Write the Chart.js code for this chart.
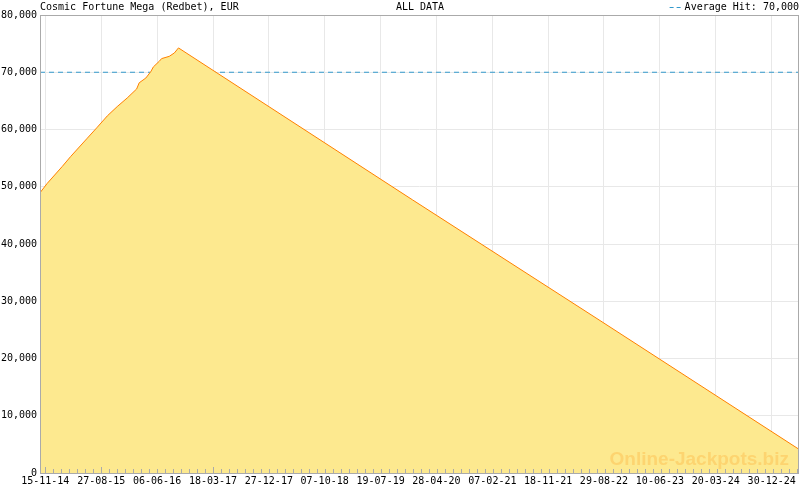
<!DOCTYPE html>
<html>
<head>
<meta charset="utf-8">
<script src="https://cdn.jsdelivr.net/npm/chart.js@4"></script>
<style>
html, body { margin: 0; padding: 0; background: #fff; }
</style>
</head>
<body>
<canvas id="c" width="800" height="490"></canvas>
<script>
const chartTitle = 'Cosmic Fortune Mega (Redbet), EUR';
const rangeLabel = 'ALL DATA';
const averageHit = 70000;

// jackpot readings (date, EUR)
const pointDates = [
    '2014-10-19', '2014-11-25', '2015-02-09', '2015-03-24', '2015-06-17',
    '2015-08-07', '2015-09-27', '2015-11-16', '2016-01-06', '2016-02-23',
    '2016-03-07', '2016-04-10', '2016-05-06', '2016-05-18', '2016-06-17',
    '2016-06-29', '2016-08-07', '2016-09-02', '2016-09-23',
    '2019-12-28', '2022-08-04', '2025-05-18'
];
const pointValues = [
    48950, 50600, 53530, 55280, 58490,
    60410, 62390, 64000, 65510, 67080,
    68160, 69000, 70160, 70930, 71910,
    72380, 72780, 73370, 74250,
    47720, 26740, 4140
];

const tickLabels = [
    '15-11-14', '27-08-15', '06-06-16', '18-03-17', '27-12-17', '07-10-18', '19-07-19',
    '28-04-20', '07-02-21', '18-11-21', '29-08-22', '10-06-23', '20-03-24', '30-12-24'
];
const yMax = 80000;
const yStep = 10000;

const FONT = '"DejaVu Sans Mono", monospace';
const DAY = 86400000;
const origin = Date.UTC(2014, 10, 15);

function isoToDay(s){
    let p = s.split('-');
    return Math.round((Date.UTC(+p[0], +p[1] - 1, +p[2]) - origin) / DAY);
}
function labelToDay(s){
    let p = s.split('-');
    return Math.round((Date.UTC(2000 + +p[2], +p[1] - 1, +p[0]) - origin) / DAY);
}

const points = pointDates.map((d, i) => ({x: isoToDay(d), y: pointValues[i]}));
const majorDays = tickLabels.map(labelToDay);
const xMin = points[0].x;
const xMax = points[points.length - 1].x;

const framePlugin = {
    id: 'frame',
    afterDatasetsDraw(chart){
        const ctx = chart.ctx;
        const a = chart.chartArea;
        const xs = chart.scales.x;
        ctx.save();
        // watermark
        ctx.font = 'bold 19px "Liberation Sans", Arial, sans-serif';
        ctx.fillStyle = 'rgba(255,170,50,0.33)';
        ctx.textAlign = 'right';
        ctx.textBaseline = 'alphabetic';
        ctx.fillText('Online-Jackpots.biz', 789, 465);
        // minor ticks
        ctx.strokeStyle = '#aaa';
        ctx.lineWidth = 1;
        let step = (majorDays[1] - majorDays[0]) / 7;
        for(let d = majorDays[0] - 7 * step; d <= xMax; d += step){
            if(d < xMin) continue;
            let px = Math.round(xs.getPixelForValue(d)) + 0.5;
            let isMajor = majorDays.some(m => Math.abs(m - d) < 1);
            ctx.beginPath();
            ctx.moveTo(px, a.bottom);
            ctx.lineTo(px, a.bottom - (isMajor ? 6 : 4));
            ctx.stroke();
        }
        // box
        ctx.strokeRect(Math.round(a.left) + 0.5, Math.round(a.top) + 0.5,
            Math.round(a.right - a.left) - 1, Math.round(a.bottom - a.top));
        ctx.restore();
    },
    afterDraw(chart){
        const ctx = chart.ctx;
        ctx.save();
        ctx.font = '10px ' + FONT;
        ctx.fillStyle = '#000';
        ctx.textBaseline = 'middle';
        ctx.textAlign = 'left';
        ctx.fillText(chartTitle, 40, 7);
        ctx.textAlign = 'center';
        ctx.fillText(rangeLabel, 420, 7);
        ctx.textAlign = 'right';
        let txt = 'Average Hit: ' + averageHit.toLocaleString('en-US');
        ctx.fillText(txt, 799, 7);
        let w = ctx.measureText(txt).width;
        ctx.strokeStyle = '#3399cc';
        ctx.setLineDash([4, 3]);
        ctx.beginPath();
        ctx.moveTo(799 - w - 15, 7.5);
        ctx.lineTo(799 - w - 3, 7.5);
        ctx.stroke();
        ctx.restore();
    }
};

const config = {
    type: 'line',
    data: {
        datasets: [
            {
                label: 'Jackpot',
                data: points,
                borderColor: '#ff8000',
                backgroundColor: '#fde98f',
                borderWidth: 1,
                fill: 'origin',
                pointRadius: 0,
                tension: 0
            },
            {
                label: 'Average Hit',
                data: [{x: xMin, y: averageHit}, {x: xMax, y: averageHit}],
                borderColor: '#3399cc',
                borderDash: [5, 4],
                borderWidth: 1,
                fill: false,
                pointRadius: 0
            }
        ]
    },
    options: {
        responsive: false,
        animation: false,
        devicePixelRatio: 1,
        layout: { padding: { top: 15, right: 1, left: 0, bottom: 0 } },
        plugins: {
            legend: { display: false },
            tooltip: { enabled: false }
        },
        scales: {
            x: {
                type: 'linear',
                min: xMin,
                max: xMax,
                afterBuildTicks(scale){
                    scale.ticks = majorDays.map(v => ({value: v}));
                },
                afterFit(scale){ scale.height = 17; },
                ticks: {
                    autoSkip: false,
                    maxRotation: 0,
                    padding: 2,
                    color: '#000',
                    font: { family: FONT, size: 10 },
                    callback(v){
                        let i = majorDays.indexOf(v);
                        return i >= 0 ? tickLabels[i] : '';
                    }
                },
                grid: { color: '#e8e8e8', drawTicks: false },
                border: { display: false }
            },
            y: {
                min: 0,
                max: yMax,
                afterFit(scale){ scale.width = 40; },
                ticks: {
                    stepSize: yStep,
                    padding: 3,
                    color: '#000',
                    font: { family: FONT, size: 10 },
                    callback(v){ return v.toLocaleString('en-US'); }
                },
                grid: { color: '#e8e8e8', drawTicks: false },
                border: { display: false }
            }
        }
    },
    plugins: [framePlugin]
};

new Chart(document.getElementById('c').getContext('2d'), config);
</script>
</body>
</html>
